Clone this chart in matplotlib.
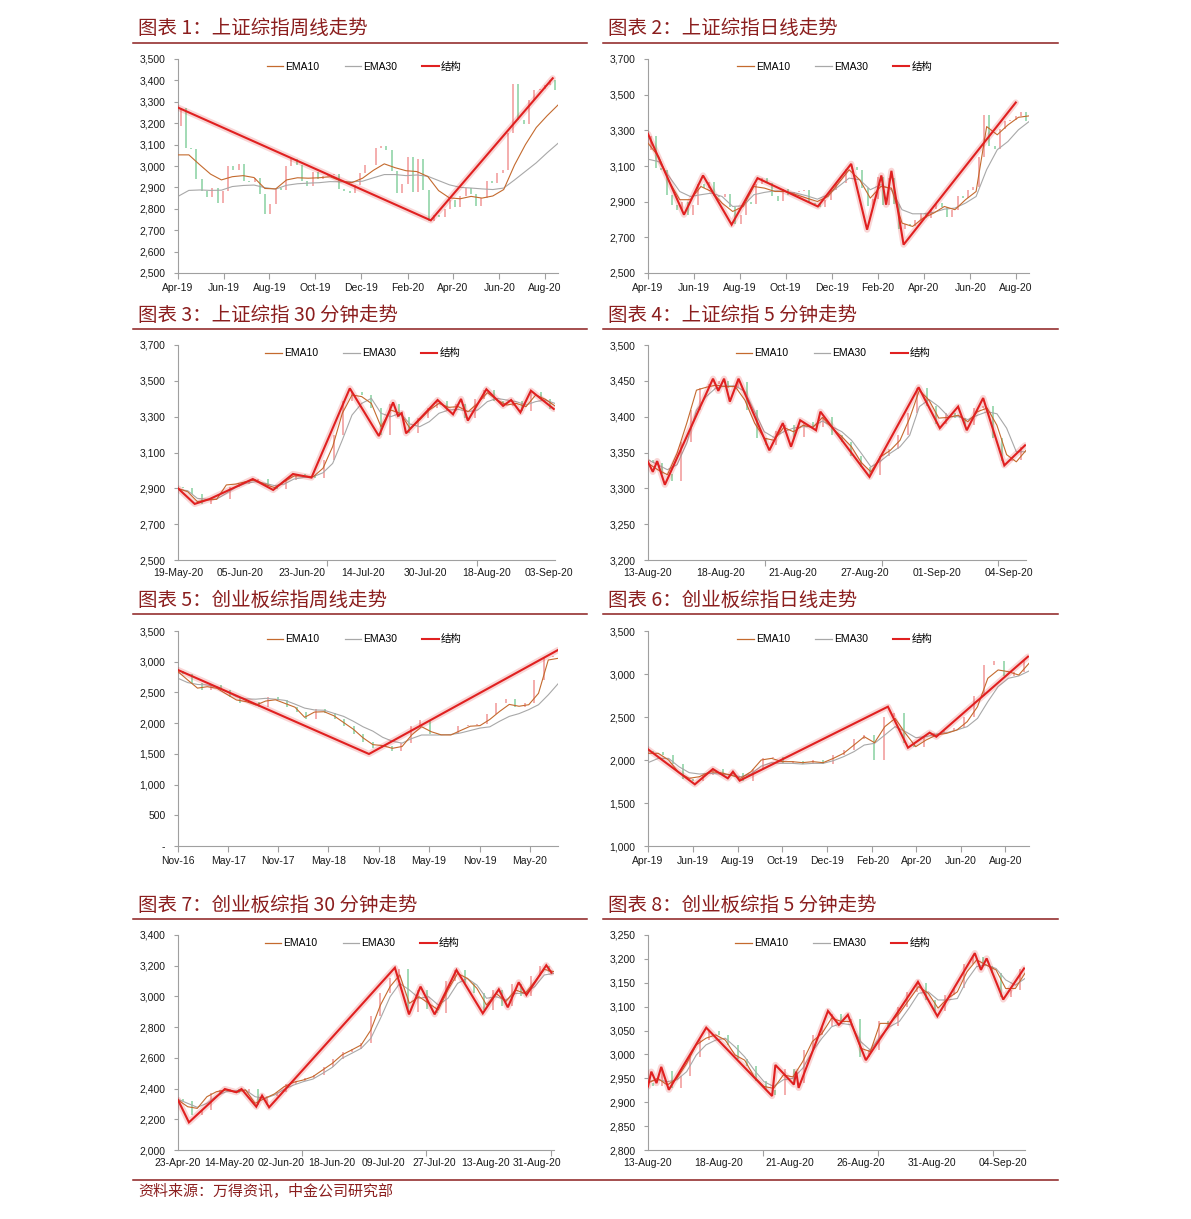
#!/usr/bin/env python3

# numpy
import numpy as np
# plotting
import matplotlib
matplotlib.use("Agg")
import matplotlib.pyplot as plt
from matplotlib.lines import Line2D
from matplotlib.ticker import FuncFormatter

plt.rcParams['font.family'] = ['Liberation Sans', 'Noto Sans CJK SC']

# ---------------------------------------------------------------- data
# panel 1: SSE weekly, x in weeks from Apr-19 (first entry of close = prior close)
p1_close = [3189, 3270, 3086, 3078, 2939, 2882, 2853, 2899, 2827, 2882, 3001, 2979, 3011, 2930,
            2924, 2944, 2868, 2774, 2824, 2898, 2886, 2999, 3031, 3006, 2932, 2905, 2973, 2938,
            2955, 2958, 2964, 2891, 2885, 2872, 2912, 2968, 3005, 3005, 3083, 3092, 3075, 2977,
            2876, 2917, 3040, 2880, 3034, 2887, 2745, 2772, 2764, 2797, 2839, 2809, 2860, 2895,
            2868, 2814, 2852, 2931, 2920, 2968, 2980, 3152, 3384, 3214, 3197, 3310, 3354, 3360,
            3380, 3404, 3355]
p1_ema10 = [3052, 3052, 3006, 2962, 2935, 2950, 2955, 2946, 2895, 2893, 2935, 2945, 2943, 2945,
            2950, 2930, 2922, 2943, 2980, 3010, 2992, 2978, 2974, 2951, 2885, 2851, 2847, 2858,
            2850, 2860, 2890, 3005, 3100, 3180, 3235, 3285]
p1_ema30 = [2858, 2886, 2888, 2886, 2887, 2904, 2909, 2911, 2899, 2892, 2910, 2917, 2920, 2922,
            2927, 2926, 2926, 2929, 2945, 2960, 2960, 2955, 2958, 2952, 2932, 2912, 2900, 2897,
            2893, 2890, 2897, 2935, 2975, 3015, 3062, 3106]
p1_struct_x = [0, 47.9, 71.0]
p1_struct_y = [3273, 2746, 3410]

# panel 2: SSE daily, x in weeks from Apr-19
p2_close = p1_close
p2_ema10 = [3228, 3153, 3013, 2911, 2911, 2985, 2957, 2892, 2845, 2873, 2985, 2976, 2957, 2957,
            2939, 2920, 2901, 2929, 3004, 3079, 3023, 2920, 2985, 2976, 2780, 2761, 2808, 2836,
            2873, 2855, 2911, 2957, 3321, 3275, 3330, 3373, 3381]
p2_ema30 = [3138, 3125, 3041, 2957, 2929, 2939, 2948, 2929, 2873, 2877, 2939, 2952, 2961, 2957,
            2948, 2933, 2914, 2939, 2985, 3032, 3023, 2967, 2995, 2967, 2855, 2832, 2832, 2840,
            2858, 2864, 2892, 2929, 3080, 3191, 3237, 3303, 3349]
p2_struct_x = [0, 6.8, 10.4, 15.8, 20.7, 32.1, 38.4, 41.4, 44.1, 45.0, 46.0, 48.3, 69.5]
p2_struct_y = [3280, 2827, 3047, 2771, 3032, 2873, 3112, 2743, 3047, 2883, 3073, 2659, 3456]

# panel 3: SSE 30-minute, x in bars
p3_close = [2905, 2900, 2870, 2815, 2840, 2838, 2905, 2925, 2940, 2950, 2915, 2895, 2945, 2978,
            2972, 2960, 3060, 3200, 3390, 3440, 3420, 3350, 3200, 3370, 3300, 3210, 3290, 3350,
            3390, 3330, 3370, 3290, 3400, 3450, 3390, 3360, 3385, 3330, 3440, 3400, 3345]
p3_ema10 = [2900, 2881, 2826, 2835, 2839, 2919, 2924, 2937, 2947, 2922, 2904, 2937, 2969, 2969,
            2965, 3012, 3133, 3319, 3421, 3412, 3374, 3244, 3337, 3319, 3235, 3281, 3337, 3374,
            3352, 3356, 3328, 3374, 3434, 3393, 3365, 3374, 3356, 3421, 3397, 3360]
p3_ema30 = [2894, 2887, 2844, 2839, 2840, 2872, 2906, 2928, 2937, 2928, 2915, 2924, 2952, 2961,
            2965, 2987, 3039, 3170, 3309, 3374, 3402, 3319, 3300, 3319, 3259, 3244, 3272, 3319,
            3337, 3341, 3328, 3337, 3384, 3402, 3393, 3384, 3365, 3384, 3393, 3374]
p3_struct_x = [0, 27, 51, 121, 154, 186, 216, 278, 325, 348, 356, 362, 369, 420, 445, 458, 469,
               499, 526, 539, 554, 571, 608]
p3_struct_y = [2900, 2813, 2840, 2952, 2891, 2980, 2960, 3458, 3192, 3380, 3305, 3320, 3207, 3393,
               3313, 3399, 3278, 3453, 3360, 3393, 3324, 3445, 3343]

# panel 4: SSE 5-minute, x in bars
p4_close = [3340, 3335, 3320, 3310, 3365, 3410, 3440, 3445, 3450, 3440, 3448, 3410, 3370, 3360,
            3380, 3388, 3372, 3392, 3385, 3400, 3375, 3365, 3345, 3330, 3318, 3345, 3355, 3375,
            3405, 3440, 3415, 3390, 3405, 3398, 3388, 3412, 3415, 3370, 3338, 3340, 3358]
p4_ema10 = [3335, 3326, 3319, 3349, 3391, 3437, 3441, 3444, 3442, 3442, 3423, 3391, 3370, 3367,
            3385, 3379, 3388, 3385, 3399, 3384, 3372, 3358, 3336, 3323, 3344, 3353, 3367, 3398,
            3437, 3423, 3398, 3399, 3402, 3393, 3407, 3412, 3388, 3347, 3337, 3353]
p4_ema30 = [3340, 3333, 3326, 3333, 3363, 3409, 3428, 3440, 3443, 3443, 3435, 3407, 3379, 3371,
            3379, 3384, 3386, 3386, 3394, 3386, 3379, 3367, 3349, 3330, 3338, 3349, 3358, 3374,
            3414, 3424, 3414, 3400, 3400, 3396, 3402, 3407, 3404, 3384, 3351, 3351]
p4_struct_x = [0, 10, 19, 35, 135, 146, 158, 170, 188, 252, 280, 297, 316, 349, 358, 460, 562,
               606, 644, 662, 696, 740, 783]
p4_struct_y = [3337, 3323, 3338, 3305, 3453, 3436, 3453, 3421, 3453, 3353, 3391, 3358, 3395, 3381,
               3407, 3316, 3441, 3384, 3414, 3381, 3426, 3332, 3360]

# panel 5: ChiNext weekly, x in weeks from Nov-16
p5_close = [2850, 2800, 2650, 2540, 2620, 2540, 2430, 2330, 2350, 2260, 2420, 2380, 2270, 2180,
            2060, 2230, 2170, 2060, 1950, 1830, 1700, 1600, 1620, 1540, 1680, 1950, 2050, 1820,
            1800, 1830, 1960, 1970, 1980, 2150, 2330, 2400, 2260, 2330, 2700, 3080, 3100]
p5_ema10 = [2838, 2702, 2570, 2593, 2567, 2470, 2377, 2350, 2295, 2360, 2380, 2320, 2260, 2095,
            2180, 2186, 2120, 2010, 1900, 1760, 1650, 1635, 1590, 1620, 1810, 1942, 1860, 1810,
            1807, 1880, 1950, 1960, 2060, 2190, 2305, 2275, 2300, 2486, 3028, 3055]
p5_ema30 = [2730, 2660, 2630, 2621, 2590, 2515, 2430, 2395, 2390, 2404, 2390, 2370, 2310, 2245,
            2215, 2210, 2160, 2110, 2030, 1940, 1870, 1770, 1705, 1675, 1750, 1807, 1807, 1807,
            1815, 1840, 1880, 1920, 1940, 2030, 2110, 2155, 2220, 2300, 2460, 2640]
p5_struct_x = [0, 99, 197]
p5_struct_y = [2865, 1498, 3191]

# panel 6: ChiNext daily, x in weeks from Apr-19
p6_close = [2100, 2090, 2060, 1950, 1780, 1760, 1830, 1890, 1820, 1850, 1760, 1900, 2020, 2040,
            1960, 1990, 1950, 2000, 1950, 2060, 2120, 2250, 2290, 2000, 2500, 2550, 2200, 2150,
            2280, 2310, 2340, 2370, 2500, 2750, 3100, 3150, 2980, 3020, 3160]
p6_ema10 = [2078, 2078, 2000, 1853, 1787, 1806, 1864, 1853, 1826, 1787, 1864, 2000, 2019, 1981,
            1981, 1969, 1981, 1969, 2019, 2078, 2174, 2271, 2201, 2388, 2484, 2310, 2155, 2232,
            2291, 2310, 2349, 2446, 2620, 2950, 3047, 3027, 2988, 3124]
p6_ema30 = [1969, 2019, 2019, 1922, 1853, 1837, 1845, 1837, 1826, 1806, 1837, 1930, 1969, 1961,
            1961, 1953, 1961, 1961, 1992, 2039, 2097, 2174, 2194, 2291, 2388, 2330, 2260, 2271,
            2302, 2318, 2349, 2388, 2484, 2678, 2853, 2950, 2977, 3035]
p6_struct_x = [0, 9.1, 12.6, 15.5, 16.5, 17.8, 46.6, 50.5, 54.7, 56.0, 73.8]
p6_struct_y = [2124, 1717, 1895, 1787, 1864, 1760, 2620, 2143, 2318, 2271, 3202]

# panel 7: ChiNext 30-minute, x in bars
p7_close = [2330, 2320, 2230, 2260, 2370, 2390, 2395, 2370, 2395, 2290, 2350, 2380, 2430, 2450,
            2470, 2490, 2540, 2590, 2640, 2660, 2700, 2870, 3020, 3120, 3180, 2900, 3040, 2920,
            2890, 3100, 3170, 3090, 3020, 2910, 3040, 2940, 3080, 3000, 3130, 3200, 3160]
p7_ema10 = [2326, 2282, 2271, 2347, 2380, 2391, 2376, 2391, 2304, 2336, 2365, 2412, 2441, 2456,
            2478, 2521, 2564, 2619, 2651, 2684, 2781, 2944, 3064, 3140, 2955, 2998, 2955, 2912,
            3042, 3150, 3118, 3053, 2944, 3020, 2966, 3042, 3020, 3096, 3176, 3161]
p7_ema30 = [2330, 2304, 2278, 2304, 2352, 2380, 2386, 2391, 2347, 2336, 2358, 2395, 2423, 2445,
            2462, 2499, 2538, 2597, 2629, 2662, 2727, 2857, 2998, 3085, 3042, 2988, 2998, 2944,
            2988, 3085, 3118, 3074, 2988, 2998, 2977, 3020, 3020, 3064, 3140, 3150]
p7_struct_x = [0, 17, 73, 91, 99, 122, 131, 142, 338, 360, 378, 400, 434, 475, 500, 514, 531,
               543, 574, 582]
p7_struct_y = [2326, 2180, 2397, 2376, 2397, 2282, 2354, 2278, 3187, 2883, 3064, 2883, 3172, 2890,
               3046, 2929, 3092, 3009, 3203, 3155]

# panel 8: ChiNext 5-minute, x in bars
p8_close = [2940, 2935, 2965, 2930, 2955, 2995, 3030, 3050, 3040, 3020, 2990, 2975, 2945, 2925,
            2915, 2970, 2940, 3010, 3040, 3060, 3085, 3070, 3075, 2995, 3010, 3070, 3060, 3100,
            3130, 3150, 3115, 3090, 3125, 3140, 3190, 3205, 3185, 3170, 3120, 3135, 3178]
p8_ema10 = [2940, 2950, 2936, 2950, 2981, 3020, 3034, 3041, 3030, 2999, 2988, 2953, 2933, 2929,
            2957, 2953, 2985, 3027, 3044, 3076, 3069, 3069, 3013, 3006, 3065, 3065, 3086, 3114,
            3142, 3128, 3097, 3117, 3131, 3173, 3198, 3187, 3177, 3138, 3138, 3170]
p8_ema30 = [2943, 2947, 2943, 2947, 2964, 2999, 3020, 3030, 3034, 3016, 2995, 2967, 2943, 2933,
            2947, 2950, 2971, 3006, 3034, 3058, 3065, 3062, 3027, 3009, 3037, 3058, 3069, 3097,
            3128, 3131, 3114, 3114, 3117, 3156, 3184, 3187, 3180, 3156, 3145, 3159]
p8_struct_x = [0, 7, 18, 28, 44, 123, 262, 269, 308, 313, 318, 380, 403, 422, 460, 570, 611, 690,
               703, 715, 750, 794]
p8_struct_y = [2933, 2964, 2940, 2974, 2926, 3056, 2913, 2978, 2937, 2964, 2930, 3091, 3062, 3083,
               2988, 3152, 3080, 3212, 3177, 3201, 3115, 3180]

# axis labels
month_labels_19 = ['Apr-19', 'Jun-19', 'Aug-19', 'Oct-19', 'Dec-19', 'Feb-20', 'Apr-20', 'Jun-20', 'Aug-20']
month_pos_p1 = [0, 8.65, 17.3, 26.0, 34.7, 43.5, 52.1, 60.9, 69.5]
month_pos_p6 = [0, 8.7, 17.5, 26.1, 34.8, 43.6, 52.1, 60.8, 69.4]
p3_labels = ['19-May-20', '05-Jun-20', '23-Jun-20', '14-Jul-20', '30-Jul-20', '18-Aug-20', '03-Sep-20']
p4_labels = ['13-Aug-20', '18-Aug-20', '21-Aug-20', '27-Aug-20', '01-Sep-20', '04-Sep-20']
p5_labels = ['Nov-16', 'May-17', 'Nov-17', 'May-18', 'Nov-18', 'May-19', 'Nov-19', 'May-20']
p5_label_pos = [0, 26, 52, 78, 104, 130, 156.5, 182.5]
p7_labels = ['23-Apr-20', '14-May-20', '02-Jun-20', '18-Jun-20', '09-Jul-20', '27-Jul-20',
             '13-Aug-20', '31-Aug-20']
p8_labels = ['13-Aug-20', '18-Aug-20', '21-Aug-20', '26-Aug-20', '31-Aug-20', '04-Sep-20']

titles = ['图表 1：上证综指周线走势', '图表 2：上证综指日线走势',
          '图表 3：上证综指 30 分钟走势', '图表 4：上证综指 5 分钟走势',
          '图表 5：创业板综指周线走势', '图表 6：创业板综指日线走势',
          '图表 7：创业板综指 30 分钟走势', '图表 8：创业板综指 5 分钟走势']
source_text = '资料来源：万得资讯，中金公司研究部'

# ---------------------------------------------------------------- style
W, H = 1191, 1219
RED = '#E02020'
BROWN = '#C46A2E'
GRAY = '#A8A8A8'
AXIS = '#A0A0A0'
DARK = '#8B1E1E'
UP = '#F4AFAF'
DOWN = '#A3DBB6'
TICK_SIZE = 7.5


def yfmt(v, _):
    return '-' if v == 0 else f'{v:,.0f}'


def px_axes(fig, left, right, top, bottom):
    return fig.add_axes([left / W, 1 - bottom / H, (right - left) / W, (bottom - top) / H])


def draw_panel(ax, width_px, n, close, ema10, ema30, sx, sy, ylim, ystep,
               labels, label_pos, mark_pos=None):
    # candles, open = previous close
    close = np.asarray(close, float)
    o, c = close[:-1], close[1:]
    step = n / len(c)
    xc = (np.arange(len(c)) + 0.5) * step
    colors = np.where(c >= o, UP, DOWN)
    ax.bar(xc, c - o, bottom=o, width=2.0 * n / width_px, color=colors, linewidth=0, zorder=1)
    # moving averages
    ax.plot(np.linspace(0, n, len(ema30)), ema30, color=GRAY, lw=0.8, zorder=2)
    ax.plot(np.linspace(0, n, len(ema10)), ema10, color=BROWN, lw=0.8, zorder=3)
    # structure line with soft halo
    ax.plot(sx, sy, color=RED, lw=4.5, alpha=0.18, solid_capstyle='round', zorder=4)
    ax.plot(sx, sy, color=RED, lw=1.5, solid_joinstyle='miter', zorder=5)

    ax.set_xlim(0, n)
    ax.set_ylim(*ylim)
    ax.set_yticks(np.arange(ylim[0], ylim[1] + 1, ystep))
    ax.yaxis.set_major_formatter(FuncFormatter(yfmt))
    ax.set_xticks(label_pos)
    ax.set_xticklabels(labels)
    for s in ['top', 'right']:
        ax.spines[s].set_visible(False)
    for s in ['left', 'bottom']:
        ax.spines[s].set_color(AXIS)
        ax.spines[s].set_linewidth(0.8)
    ax.tick_params(axis='y', length=3, width=0.8, color=AXIS, pad=6,
                   labelsize=TICK_SIZE, labelcolor='#1a1a1a')
    if mark_pos is None:
        ax.tick_params(axis='x', length=4, width=0.8, color=AXIS, pad=3,
                       labelsize=TICK_SIZE, labelcolor='#1a1a1a')
    else:
        ax.tick_params(axis='x', which='major', length=0, pad=6,
                       labelsize=TICK_SIZE, labelcolor='#1a1a1a')
        ax.set_xticks(mark_pos, minor=True)
        ax.tick_params(axis='x', which='minor', length=4, width=0.8, color=AXIS)

    handles = [Line2D([], [], color=BROWN, lw=0.9), Line2D([], [], color=GRAY, lw=0.9),
               Line2D([], [], color=RED, lw=1.5)]
    ax.legend(handles, ['EMA10', 'EMA30', '结构'], loc='center', bbox_to_anchor=(0.49, 0.962),
              ncol=3, frameon=False, fontsize=7.5, handlelength=1.6, handletextpad=0.2,
              columnspacing=2.4, borderpad=0)


# ---------------------------------------------------------------- figure
fig = plt.figure(figsize=(W / 100, H / 100), dpi=100)

# pixel boxes (left, right, top, bottom) of each plot area
boxes = [(178, 558, 59, 273), (648, 1029, 59, 273),
         (178, 555, 345, 560), (648, 1026, 345, 560),
         (178, 558, 631, 846), (648, 1029, 631, 846),
         (178, 554, 935, 1150), (648, 1025, 935, 1150)]

specs = [
    dict(n=72, close=p1_close, ema10=p1_ema10, ema30=p1_ema30, sx=p1_struct_x, sy=p1_struct_y,
         ylim=(2500, 3500), ystep=100, labels=month_labels_19, label_pos=month_pos_p1),
    dict(n=72, close=p2_close, ema10=p2_ema10, ema30=p2_ema30, sx=p2_struct_x, sy=p2_struct_y,
         ylim=(2500, 3700), ystep=200, labels=month_labels_19, label_pos=month_pos_p1),
    dict(n=610, close=p3_close, ema10=p3_ema10, ema30=p3_ema30, sx=p3_struct_x, sy=p3_struct_y,
         ylim=(2500, 3700), ystep=200, labels=p3_labels, label_pos=[0, 100, 200, 300, 400, 500, 600],
         mark_pos=[0, 241, 483]),
    dict(n=785, close=p4_close, ema10=p4_ema10, ema30=p4_ema30, sx=p4_struct_x, sy=p4_struct_y,
         ylim=(3200, 3500), ystep=50, labels=p4_labels, label_pos=[0, 150, 300, 450, 600, 750],
         mark_pos=[0, 244, 486, 727]),
    dict(n=197, close=p5_close, ema10=p5_ema10, ema30=p5_ema30, sx=p5_struct_x, sy=p5_struct_y,
         ylim=(0, 3500), ystep=500, labels=p5_labels, label_pos=p5_label_pos),
    dict(n=74, close=p6_close, ema10=p6_ema10, ema30=p6_ema30, sx=p6_struct_x, sy=p6_struct_y,
         ylim=(1000, 3500), ystep=500, labels=month_labels_19, label_pos=month_pos_p6),
    dict(n=586, close=p7_close, ema10=p7_ema10, ema30=p7_ema30, sx=p7_struct_x, sy=p7_struct_y,
         ylim=(2000, 3400), ystep=200, labels=p7_labels, label_pos=[0, 80, 160, 240, 320, 400, 480, 560],
         mark_pos=[0, 193, 387, 581]),
    dict(n=796, close=p8_close, ema10=p8_ema10, ema30=p8_ema30, sx=p8_struct_x, sy=p8_struct_y,
         ylim=(2800, 3250), ystep=50, labels=p8_labels, label_pos=[0, 150, 300, 450, 600, 750],
         mark_pos=[0, 243, 486, 729]),
]

title_rows = [28, 315, 600, 905]
rule_rows = [43, 329, 614, 919]
col_x = [(133, 587, 138), (603, 1058, 608)]

for index, (box, spec) in enumerate(zip(boxes, specs)):
    ax = px_axes(fig, *box)
    draw_panel(ax, box[1] - box[0], **spec)
    row, col = divmod(index, 2)
    x0, x1, tx = col_x[col]
    fig.text(tx / W, 1 - title_rows[row] / H, titles[index], ha='left', va='center',
             fontsize=14, color=DARK, family=['Noto Sans CJK SC', 'DejaVu Sans'])
    fig.add_artist(Line2D([x0 / W, x1 / W], [1 - rule_rows[row] / H] * 2, color=DARK, lw=1.1))

# source footer
fig.add_artist(Line2D([133 / W, 1058 / W], [1 - 1180 / H] * 2, color=DARK, lw=1.1))
fig.text(138 / W, 1 - 1192 / H, source_text, ha='left', va='center', fontsize=10.8,
         color=DARK, family=['Noto Sans CJK SC', 'DejaVu Sans'])

fig.savefig('out.png', dpi=100)
